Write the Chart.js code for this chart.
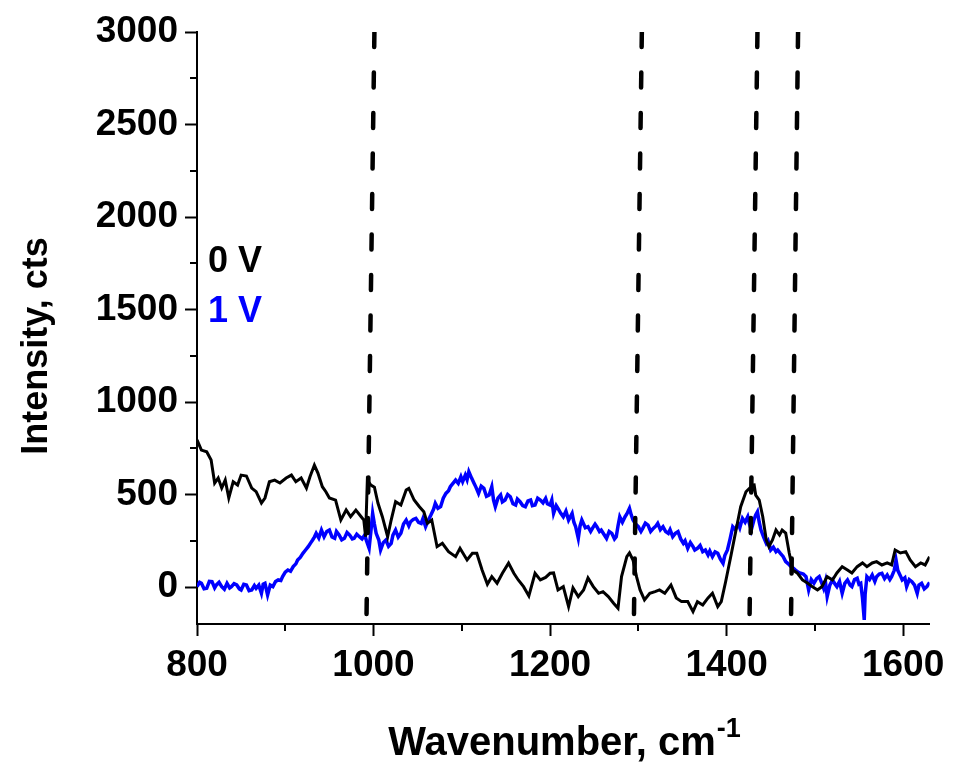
<!DOCTYPE html>
<html>
<head>
<meta charset="utf-8">
<script src="https://cdn.jsdelivr.net/npm/chart.js@4.4.0/dist/chart.umd.min.js"></script>
<style>
  html, body { margin: 0; padding: 0; background: #fff; }
</style>
</head>
<body>
<canvas id="spectrum" width="953" height="763"></canvas>
<script>
// 0 V spectrum (black)
const wave0V = [800, 805, 811, 816, 820, 824, 828, 832, 836, 841, 846, 850, 856, 862, 867, 873, 877, 882, 888, 894,
  901, 907, 912, 918, 924, 928, 933, 937, 942, 946, 950, 957, 963, 969, 974, 980, 986, 989, 991, 993,
  997, 1001, 1005, 1010, 1016, 1020, 1025, 1031, 1037, 1040, 1046, 1052, 1057, 1061, 1066, 1072, 1078, 1085, 1093, 1098,
  1106, 1112, 1117, 1123, 1129, 1134, 1140, 1146, 1153, 1159, 1164, 1170, 1176, 1183, 1189, 1195, 1200, 1204, 1209, 1215,
  1221, 1226, 1232, 1238, 1243, 1249, 1255, 1260, 1266, 1272, 1277, 1281, 1287, 1290, 1294, 1298, 1302, 1307, 1313, 1319,
  1324, 1330, 1337, 1343, 1349, 1356, 1362, 1367, 1373, 1379, 1384, 1390, 1394, 1399, 1405, 1411, 1416, 1422, 1426, 1430,
  1431, 1433, 1437, 1441, 1445, 1448, 1452, 1456, 1460, 1463, 1467, 1471, 1475, 1480, 1486, 1492, 1497, 1503, 1508, 1514,
  1520, 1525, 1531, 1537, 1542, 1548, 1554, 1559, 1565, 1570, 1576, 1582, 1587, 1591, 1597, 1603, 1608, 1614, 1620, 1625, 1630];
const int0V = [795, 740, 731, 686, 562, 589, 535, 578, 481, 569, 551, 605, 600, 535, 515, 454, 481, 569, 578, 562,
  589, 605, 569, 589, 535, 596, 659, 616, 542, 515, 481, 470, 362, 416, 380, 416, 380, 362, 272, 578,
  551, 540, 454, 380, 272, 362, 461, 443, 524, 533, 470, 434, 407, 344, 362, 218, 236, 191, 164, 209,
  146, 182, 182, 92, 15, 56, 20, 74, 129, 74, 38, 2, -48, 74, 38, 52, 74, 76, -16, 2,
  -106, -5, -52, -16, 49, 2, -34, -25, -52, -88, -115, 56, 164, 184, 146, 56, -16, -70, -34, -25,
  -16, -34, 11, -59, -79, -79, -133, -79, -97, -59, -34, -106, -79, 30, 170, 315, 434, 515, 533, 524,
  560, 497, 470, 380, 254, 218, 254, 308, 281, 308, 292, 184, 92, 76, 38, 20, 2, -16, 2, 56,
  38, 76, 110, 92, 76, 110, 130, 110, 130, 137, 119, 130, 119, 200, 184, 191, 146, 110, 130, 119, 164];

// 1 V spectrum (blue)
const wave1V = [800, 803, 805, 808, 811, 814, 817, 820, 822, 825, 828, 831, 834, 837, 839, 842, 845, 848, 850, 853,
  856, 859, 862, 865, 867, 870, 873, 875, 877, 880, 883, 886, 889, 892, 895, 897, 900, 903, 906, 909,
  912, 914, 917, 920, 923, 926, 929, 931, 933, 935, 938, 941, 944, 947, 950, 953, 956, 958, 961, 964,
  967, 970, 973, 976, 978, 981, 984, 987, 990, 992, 995, 997, 999, 1001, 1003, 1006, 1008, 1011, 1014, 1017,
  1020, 1022, 1025, 1028, 1031, 1034, 1037, 1040, 1042, 1045, 1048, 1051, 1054, 1056, 1059, 1062, 1065, 1068, 1070, 1073,
  1076, 1079, 1082, 1085, 1087, 1090, 1093, 1096, 1099, 1101, 1104, 1106, 1108, 1111, 1114, 1116, 1119, 1122, 1125, 1128,
  1131, 1134, 1136, 1138, 1141, 1144, 1146, 1149, 1152, 1155, 1158, 1161, 1163, 1166, 1169, 1172, 1175, 1178, 1180, 1183,
  1186, 1189, 1192, 1195, 1197, 1200, 1202, 1204, 1207, 1209, 1212, 1215, 1218, 1221, 1225, 1227, 1229, 1232, 1234, 1236,
  1240, 1243, 1246, 1248, 1251, 1253, 1256, 1258, 1261, 1264, 1267, 1270, 1273, 1275, 1277, 1279, 1282, 1285, 1287, 1290,
  1292, 1294, 1297, 1300, 1303, 1305, 1308, 1311, 1314, 1317, 1320, 1322, 1325, 1328, 1331, 1334, 1336, 1339, 1342, 1345,
  1348, 1351, 1353, 1356, 1359, 1362, 1364, 1367, 1370, 1373, 1376, 1379, 1381, 1384, 1387, 1390, 1393, 1396, 1398, 1401,
  1404, 1407, 1410, 1413, 1415, 1418, 1421, 1424, 1426, 1428, 1431, 1433, 1435, 1437, 1439, 1442, 1445, 1447, 1450, 1453,
  1456, 1458, 1461, 1464, 1467, 1470, 1473, 1476, 1478, 1481, 1484, 1487, 1490, 1493, 1496, 1499, 1502, 1505, 1508, 1510,
  1512, 1514, 1517, 1520, 1523, 1525, 1528, 1531, 1534, 1537, 1540, 1542, 1545, 1548, 1550, 1552, 1554, 1556, 1557, 1559,
  1562, 1565, 1568, 1570, 1573, 1576, 1579, 1582, 1585, 1587, 1590, 1592, 1594, 1597, 1599, 1602, 1604, 1607, 1610, 1613,
  1616, 1618, 1621, 1624, 1627, 1630];
const int1V = [2, 25, 20, -10, -7, 30, 29, -5, 11, 25, 2, -12, 20, -5, 2, 18, 11, -10, -16, 15,
  11, -20, -16, 8, -7, 10, -34, 15, 20, -43, 10, 2, 30, 38, 35, 56, 80, 92, 85, 110,
  125, 146, 160, 182, 200, 218, 240, 254, 270, 290, 265, 308, 272, 300, 308, 270, 263, 300, 281, 255,
  263, 295, 281, 260, 263, 285, 272, 260, 281, 250, 209, 300, 398, 340, 290, 254, 200, 240, 254, 220,
  236, 280, 308, 270, 290, 340, 362, 330, 353, 365, 371, 350, 344, 370, 326, 360, 389, 420, 452, 425,
  434, 480, 506, 520, 542, 560, 578, 560, 596, 570, 605, 580, 623, 590, 560, 540, 506, 545, 533, 490,
  497, 542, 470, 434, 480, 497, 460, 470, 500, 488, 450, 443, 475, 461, 440, 434, 465, 470, 440, 443,
  480, 470, 455, 479, 450, 443, 470, 398, 440, 425, 400, 380, 410, 362, 398, 350, 326, 263, 330, 362,
  320, 326, 300, 317, 340, 326, 300, 308, 285, 263, 300, 290, 260, 272, 330, 380, 350, 380, 395, 425,
  390, 362, 340, 326, 300, 317, 345, 335, 300, 317, 330, 344, 310, 326, 300, 290, 310, 272, 290, 299,
  260, 236, 250, 209, 240, 218, 200, 209, 225, 191, 200, 173, 195, 164, 190, 182, 150, 128, 170, 200,
  260, 326, 310, 344, 320, 371, 350, 380, 340, 308, 362, 390, 407, 350, 308, 270, 236, 250, 200, 215,
  191, 200, 182, 165, 137, 125, 110, 100, 92, 80, 74, 70, 56, -16, 40, 20, 45, 56, 20, -7,
  30, -52, 10, 38, 15, 2, 30, -34, 20, 38, 10, 2, 40, 47, 15, 20, -60, -178, -40, 56,
  40, 65, 30, 56, 70, 74, 45, 65, 40, 56, 90, 146, 90, 60, 38, 50, 2, 40, 29, 10,
  -34, 10, 20, -10, 2, 25];

// dashed marker lines, slightly tilted in the original: top / bottom wavenumber
const markTop = [1001, 1304, 1435, 1481];
const markBottom = [992, 1295, 1426, 1473];
const markRange = [3000, -180];

const xTicks = [800, 900, 1000, 1100, 1200, 1300, 1400, 1500, 1600];
const yTicks = [0, 250, 500, 750, 1000, 1250, 1500, 1750, 2000, 2250, 2500, 2750, 3000];
const seriesLabels = ['0 V', '1 V'];
const seriesColors = ['#000000', '#0000ff'];

const FONT = '"Liberation Sans", Arial, sans-serif';

const toPoints = (xs, ys) => xs.map((v, i) => ({ x: v, y: ys[i] }));

const markSets = markTop.map((t, i) => ({
  label: 'mark' + i,
  data: [{ x: t, y: markRange[0] }, { x: markBottom[i], y: markRange[1] }],
  borderColor: '#000',
  borderWidth: 4.5,
  borderDash: [15, 25.5],
  borderCapStyle: 'round',
  pointRadius: 0,
  order: 0
}));

const extras = {
  id: 'extras',
  afterDraw(chart) {
    const { ctx, chartArea, scales } = chart;
    const x = scales.x, y = scales.y;
    ctx.save();
    // minor ticks
    ctx.strokeStyle = '#000';
    ctx.lineWidth = 2;
    ctx.beginPath();
    xTicks.filter(v => v % 200 !== 0).forEach(v => {
      const px = Math.round(x.getPixelForValue(v));
      ctx.moveTo(px, chartArea.bottom);
      ctx.lineTo(px, chartArea.bottom + 7);
    });
    yTicks.filter(v => v % 500 !== 0).forEach(v => {
      const py = Math.round(y.getPixelForValue(v));
      ctx.moveTo(chartArea.left, py);
      ctx.lineTo(chartArea.left - 7, py);
    });
    ctx.stroke();

    // legend text
    ctx.font = 'bold 36px ' + FONT;
    ctx.textAlign = 'left';
    ctx.textBaseline = 'alphabetic';
    seriesLabels.forEach((t, i) => {
      ctx.fillStyle = seriesColors[i];
      ctx.fillText(t, 208, 272 + i * 50);
    });

    // y title
    ctx.fillStyle = '#000';
    ctx.save();
    ctx.translate(47, 346);
    ctx.rotate(-Math.PI / 2);
    ctx.textAlign = 'center';
    ctx.font = 'bold 36px ' + FONT;
    ctx.fillText('Intensity, cts', 0, 0);
    ctx.restore();

    // x title with superscript
    const main = 'Wavenumber, cm';
    const sup = '-1';
    ctx.font = 'bold 40px ' + FONT;
    const wMain = ctx.measureText(main).width;
    ctx.font = 'bold 27px ' + FONT;
    const wSup = ctx.measureText(sup).width;
    const x0 = 564 - (wMain + wSup) / 2;
    ctx.textAlign = 'left';
    ctx.font = 'bold 40px ' + FONT;
    ctx.fillText(main, x0, 755);
    ctx.font = 'bold 27px ' + FONT;
    ctx.fillText(sup, x0 + wMain + 1, 737);
    ctx.restore();
  }
};

new Chart(document.getElementById('spectrum'), {
  type: 'line',
  data: {
    datasets: [
      ...markSets,
      {
        label: seriesLabels[0],
        data: toPoints(wave0V, int0V),
        borderColor: seriesColors[0],
        borderWidth: 3,
        pointRadius: 0,
        tension: 0,
        order: 1
      },
      {
        label: seriesLabels[1],
        data: toPoints(wave1V, int1V),
        borderColor: seriesColors[1],
        borderWidth: 3.5,
        pointRadius: 0,
        tension: 0,
        order: 2
      }
    ]
  },
  options: {
    responsive: false,
    animation: false,
    devicePixelRatio: 1,
    layout: { padding: { left: 0, right: 21, top: 32, bottom: 0 } },
    plugins: { legend: { display: false }, tooltip: { enabled: false } },
    scales: {
      x: {
        type: 'linear',
        min: 800,
        max: 1630,
        afterBuildTicks: s => { s.ticks = xTicks.map(v => ({ value: v })); },
        afterFit: s => { s.height = 139; },
        border: { display: true, color: '#000', width: 2 },
        grid: {
          drawOnChartArea: false,
          drawTicks: true,
          tickLength: 12,
          tickWidth: 2,
          tickColor: c => (c.tick && c.tick.value % 200 === 0) ? '#000' : 'rgba(0,0,0,0)'
        },
        ticks: {
          autoSkip: false,
          maxRotation: 0,
          minRotation: 0,
          padding: 8,
          color: '#000',
          font: { family: FONT, size: 37, weight: 'bold' },
          callback: v => (v % 200 === 0 ? String(v) : '')
        }
      },
      y: {
        type: 'linear',
        min: -200,
        max: 3000,
        afterBuildTicks: s => { s.ticks = yTicks.map(v => ({ value: v })); },
        afterFit: s => { s.width = 197; },
        border: { display: true, color: '#000', width: 2 },
        grid: {
          drawOnChartArea: false,
          drawTicks: true,
          tickLength: 12,
          tickWidth: 2,
          tickColor: c => (c.tick && c.tick.value % 500 === 0) ? '#000' : 'rgba(0,0,0,0)'
        },
        ticks: {
          autoSkip: false,
          padding: 7,
          color: '#000',
          font: { family: FONT, size: 37, weight: 'bold' },
          callback: v => (v % 500 === 0 ? String(v) : '')
        }
      }
    }
  },
  plugins: [extras]
});
</script>
</body>
</html>
